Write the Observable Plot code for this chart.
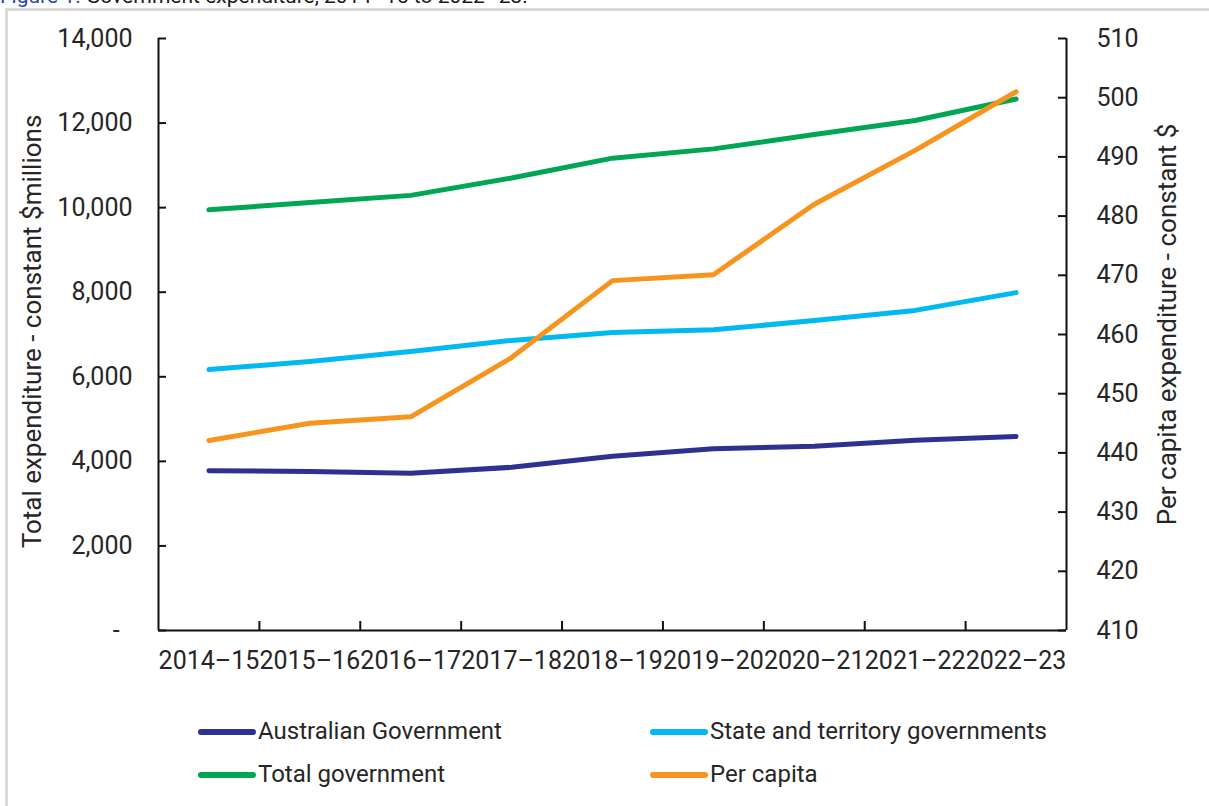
<!DOCTYPE html>
<html>
<head>
<meta charset="utf-8">
<script src="https://cdn.jsdelivr.net/npm/d3@7"></script>
<script src="https://cdn.jsdelivr.net/npm/@observablehq/plot@0.6"></script>
<style>
  html, body { margin: 0; padding: 0; background: #fff; }
  #page { position: relative; width: 1209px; height: 806px; overflow: hidden; background: #fff; font-family: Roboto, sans-serif; }
  #title { position: absolute; left: 0; top: -14px; font-size: 21px; line-height: 21px; white-space: nowrap; color: #1a1a1a; }
  #title .fig { color: #2b4a9c; }
  #frame { position: absolute; left: 5px; top: 8px; width: 1230px; height: 830px; border: 3px solid #d9d9d9; box-sizing: border-box; }
  #chart { position: absolute; left: 0; top: 0; }
  .leg { position: absolute; font-size: 24px; color: #262626; line-height: 24px; white-space: nowrap; }
  .sw { position: absolute; height: 6px; border-radius: 3px; }
</style>
</head>
<body>
<div id="page">
  <div id="title"><span class="fig">Figure 1.</span> Government expenditure, 2014–15 to 2022–23.</div>
  <div id="frame"></div>
  <div id="chart"></div>
  <div id="legend"></div>
</div>
<script>
// ---- data ----
const categories = ["2014–15","2015–16","2016–17","2017–18","2018–19","2019–20","2020–21","2021–22","2022–23"];
const australianGov = [3780, 3760, 3720, 3860, 4120, 4300, 4360, 4500, 4590];
const stateGov      = [6170, 6360, 6600, 6860, 7050, 7110, 7330, 7570, 7990];
const totalGov      = [9950, 10120, 10290, 10700, 11170, 11390, 11730, 12060, 12570];
const perCapita     = [442.1, 445.0, 446.1, 456.1, 469.1, 470.1, 482.0, 491.1, 501.0];
const leftTicks  = [0, 2000, 4000, 6000, 8000, 10000, 12000, 14000];
const rightTicks = [410, 420, 430, 440, 450, 460, 470, 480, 490, 500, 510];
const seriesNames  = ["Australian Government", "State and territory governments", "Total government", "Per capita"];
const seriesColors = ["#2e3192", "#00b9f1", "#00a651", "#f7941d"];

// right axis mapping onto left scale
const rMin = 410, rMax = 510, lMax = 14000;
const toLeft = v => (v - rMin) * lMax / (rMax - rMin);
const fromLeft = v => v * (rMax - rMin) / lMax + rMin;

const rows = [];
categories.forEach((c, i) => {
  rows.push({i: i + 0.5, series: seriesNames[0], v: australianGov[i]});
  rows.push({i: i + 0.5, series: seriesNames[1], v: stateGov[i]});
  rows.push({i: i + 0.5, series: seriesNames[2], v: totalGov[i]});
  rows.push({i: i + 0.5, series: seriesNames[3], v: toLeft(perCapita[i])});
});

const W = 1209, H = 700;
const mL = 158, mR = 143, mT = 38, mB = 70;
const frameW = W - mL - mR, frameH = H - mT - mB;
const axisColor = "#111";
const centers = categories.map((c, i) => i + 0.5);
const bounds = d3.range(1, categories.length);

const chart = Plot.plot({
  width: W, height: H,
  marginLeft: mL, marginRight: mR, marginTop: mT, marginBottom: mB,
  style: {fontFamily: "Roboto, sans-serif", fontSize: "25px", color: "#262626", background: "transparent", overflow: "visible"},
  x: {type: "linear", domain: [0, categories.length]},
  y: {domain: [0, lMax]},
  color: {domain: seriesNames, range: seriesColors},
  marks: [
    Plot.axisY({anchor: "left", ticks: leftTicks, tickSize: 0, tickPadding: 26, label: null,
      tickFormat: d => d === 0 ? "-\u2002" : d3.format(",")(d)}),
    Plot.axisY({anchor: "right", ticks: rightTicks.map(toLeft), tickSize: 0, tickPadding: 30, label: null,
      tickFormat: d => String(Math.round(fromLeft(d)))}),
    Plot.axisX({ticks: centers, tickSize: 0, tickPadding: 21, label: null,
      tickFormat: d => categories[Math.floor(d)]}),
    // inward tick marks
    Plot.tickY(leftTicks, {y: d => d, insetRight: frameW - 8, stroke: axisColor, strokeWidth: 2}),
    Plot.tickY(rightTicks.map(toLeft), {y: d => d, insetLeft: frameW - 8, stroke: axisColor, strokeWidth: 2}),
    Plot.tickX(bounds, {x: d => d, insetTop: frameH - 9, stroke: axisColor, strokeWidth: 2}),
    // axis lines
    Plot.ruleY([0], {stroke: axisColor, strokeWidth: 2}),
    Plot.ruleX([0], {stroke: axisColor, strokeWidth: 2}),
    Plot.ruleX([categories.length], {stroke: axisColor, strokeWidth: 2}),
    // axis titles
    Plot.text(["Total expenditure - constant $millions"], {frameAnchor: "left", textAnchor: "middle", rotate: -90, dx: -126, dy: -3, text: d => d, fill: "#262626", fontSize: 26}),
    Plot.text(["Per capita expenditure - constant $"], {frameAnchor: "right", textAnchor: "middle", rotate: -90, dx: 101, dy: -10, text: d => d, fill: "#262626", fontSize: 26}),
    // lines
    Plot.line(rows, {x: "i", y: "v", z: "series", stroke: "series", strokeWidth: 5, strokeLinecap: "round", strokeLinejoin: "round"})
  ]
});
document.getElementById("chart").appendChild(chart);

// legend
const legend = document.getElementById("legend");
const legPos = [
  {sx: 198, tx: 258, y: 732},
  {sx: 650, tx: 710, y: 732},
  {sx: 198, tx: 258, y: 775},
  {sx: 650, tx: 710, y: 775}
];
seriesNames.forEach((name, k) => {
  const p = legPos[k];
  const sw = document.createElement("div");
  sw.className = "sw";
  sw.style.left = p.sx + "px";
  sw.style.width = (p.tx - p.sx - 2) + "px";
  sw.style.top = (p.y - 3) + "px";
  sw.style.background = seriesColors[k];
  legend.appendChild(sw);
  const t = document.createElement("div");
  t.className = "leg";
  t.style.left = p.tx + "px";
  t.style.top = (p.y - 13) + "px";
  t.textContent = name;
  legend.appendChild(t);
});
</script>
</body>
</html>
